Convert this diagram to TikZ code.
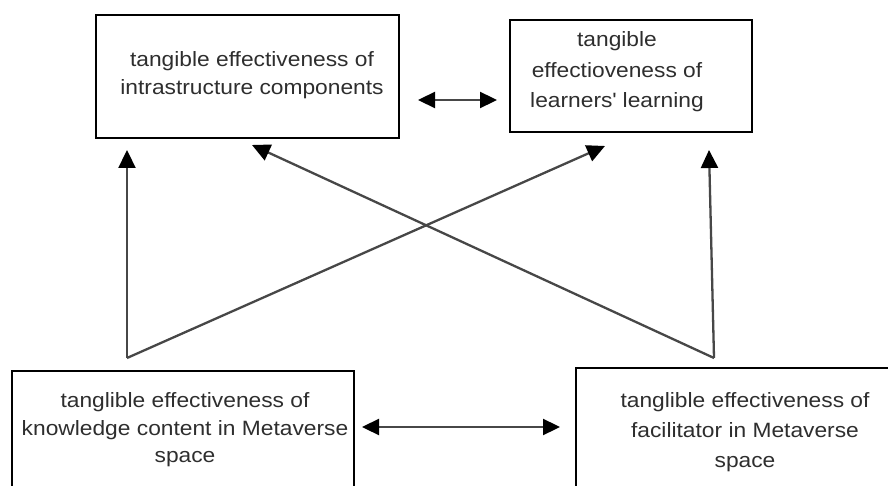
\documentclass[tikz,border=0pt]{standalone}
\usepackage{fontspec}
\setmainfont{Liberation Sans}[FakeStretch=1.1]
\usetikzlibrary{arrows.meta}
\definecolor{txtgray}{HTML}{2E2E2E}
\definecolor{linegray}{HTML}{474747}
\begin{document}
\begin{tikzpicture}[x=1pt,y=-1pt,
  box/.style={draw=black, line width=1.4pt, fill=white, inner sep=0pt, outer sep=0pt},
  txt/.style={align=center, text=txtgray, inner sep=0pt},
  conn/.style={draw=linegray, line width=2.3pt},
  arr/.style={conn, -{Triangle[length=18pt,width=17pt,color=black]}},
  dbl/.style={conn, {Triangle[length=17pt,width=16pt,color=black]}-{Triangle[length=17pt,width=16pt,color=black]}}]
\useasboundingbox (0,0) rectangle (888,486);
\clip (0,0) rectangle (888,486);
% boxes
\node[box, minimum width=303, minimum height=123] (tl) at (247.5,76.5) {};
\node[box, minimum width=242, minimum height=112] (tr) at (631,76) {};
\node[box, minimum width=342, minimum height=130] (bl) at (183,436) {};
\node[box, minimum width=330, minimum height=130] (br) at (741,433) {};
% texts
\node[txt, font=\fontsize{20.7}{28}\selectfont] (tltext) at (252,75.5)
  {tangible effectiveness of\\intrastructure components};
\node[txt, font=\fontsize{20.7}{30.5}\selectfont] (trtext) at (617,72)
  {tangible\\effectioveness of\\learners\textquotesingle{} learning};
\node[txt, font=\fontsize{20.7}{27.5}\selectfont] (bltext) at (185,430)
  {tanglible effectiveness of\\knowledge content in Metaverse\\space};
\node[txt, font=\fontsize{20.7}{30}\selectfont] (brtext) at (745,432.5)
  {tanglible effectiveness of\\facilitator in Metaverse\\space};
% connector points
\coordinate (jl) at (127,358);
\coordinate (jr) at (714,358);
\coordinate (tipl) at (127,150);
\coordinate (tipr) at (709,150);
\coordinate (tipdr) at (605,146);
\coordinate (tipdl) at (252,145);
\coordinate (ta) at (418,100);
\coordinate (tb) at (497,100);
\coordinate (ba) at (362,427);
\coordinate (bb) at (560,427);
% arrows
\draw[arr] (jl) -- (tipl);
\draw[arr] (jl) -- (tipdr);
\draw[arr] (jr) -- (tipr);
\draw[arr] (jr) -- (tipdl);
\draw[dbl] (ta) -- (tb);
\draw[dbl] (ba) -- (bb);
\end{tikzpicture}
\end{document}
